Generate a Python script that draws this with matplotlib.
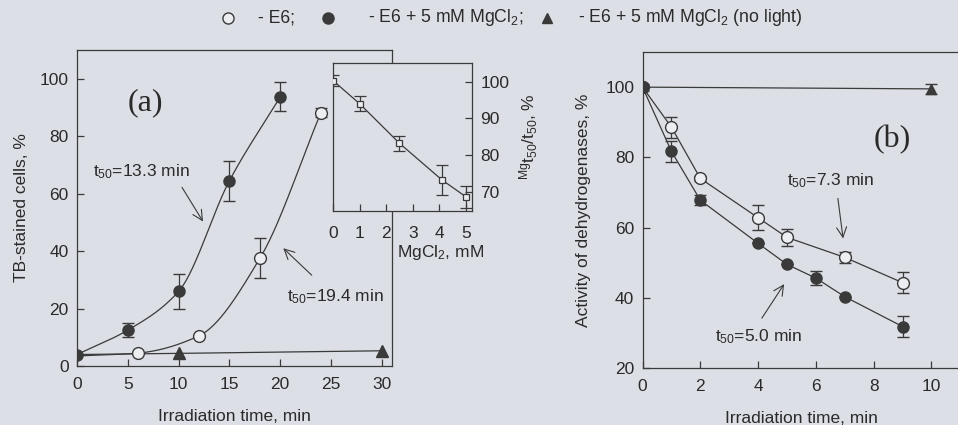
import matplotlib.pyplot as plt
import numpy as np

plt.rcParams['font.family'] = ['Liberation Sans', 'DejaVu Sans']
plt.rcParams['mathtext.fontset'] = 'custom'
plt.rcParams['mathtext.rm'] = 'Liberation Sans'
plt.rcParams['mathtext.it'] = 'Liberation Sans'

PAGE = '#dcdfe5'
INK = '#3a3a3a'
TXT = '#2a2a2a'

# (a) TB-stained cells vs irradiation time
a_t_e6 = [0, 6, 12, 18, 24]
a_y_e6 = [3.5, 4.5, 10.5, 37.5, 88.2]
a_err_e6 = [0, 0, 0, 7, 1.5]
a_t_mg = [0, 5, 10, 15, 20]
a_y_mg = [4, 12.5, 26, 64.5, 93.7]
a_err_mg = [0, 2.5, 6, 7, 5]
a_t_dark = [0, 10, 30]
a_y_dark = [4, 4.4, 5.3]

# inset: MgCl2 dependence
ins_mg = [0, 1, 2.5, 4.1, 5]
ins_y = [100.3, 94, 83.2, 73.2, 68.6]
ins_err = [1.5, 2, 2, 4, 3]

# (b) dehydrogenase activity
b_t_e6 = [0, 1, 2, 4, 5, 7, 9]
b_y_e6 = [100, 88.6, 74, 62.8, 57.2, 51.5, 44.3]
b_err_e6 = [0, 3, 0.8, 3.5, 2.5, 1.5, 3]
b_t_mg = [0, 1, 2, 4, 5, 6, 7, 9]
b_y_mg = [100, 81.7, 67.8, 55.5, 49.5, 45.6, 40.3, 31.8]
b_err_mg = [1, 3, 1.5, 0, 0, 2, 0, 3]
b_t_dark = [0, 10]
b_y_dark = [100, 99.5]
b_err_dark = [0, 1.5]


def pchip(x, y, n=200):
    # monotone cubic through the measured points
    x = np.asarray(x, float)
    y = np.asarray(y, float)
    h = np.diff(x)
    d = np.diff(y) / h
    m = np.zeros_like(y)
    m[0], m[-1] = d[0], d[-1]
    for k in range(1, len(x) - 1):
        if d[k - 1] * d[k] > 0:
            w1 = 2 * h[k] + h[k - 1]
            w2 = h[k] + 2 * h[k - 1]
            m[k] = (w1 + w2) / (w1 / d[k - 1] + w2 / d[k])
    xs = np.linspace(x[0], x[-1], n)
    i = np.clip(np.searchsorted(x, xs) - 1, 0, len(h) - 1)
    s = (xs - x[i]) / h[i]
    h00 = 2 * s**3 - 3 * s**2 + 1
    h10 = s**3 - 2 * s**2 + s
    h01 = -2 * s**3 + 3 * s**2
    h11 = s**3 - s**2
    ys = h00 * y[i] + h10 * h[i] * m[i] + h01 * y[i + 1] + h11 * h[i] * m[i + 1]
    return xs, ys


def style(ax):
    ax.set_facecolor(PAGE)
    for sp in ax.spines.values():
        sp.set_color(INK)
        sp.set_linewidth(0.9)
    ax.tick_params(direction='in', length=5, width=0.9, colors=INK,
                   labelsize=12.5, labelcolor=TXT)
    ax.tick_params(axis='x', pad=8)
    ax.tick_params(axis='y', pad=6)


def arrow(ax, start, end):
    ax.annotate('', xy=end, xytext=start,
                arrowprops=dict(arrowstyle='->', color=INK, lw=0.8,
                                shrinkA=0, shrinkB=0, mutation_scale=18))


fig = plt.figure(figsize=(9.58, 4.25), dpi=100, facecolor=PAGE)

open_kw = dict(marker='o', ms=8.5, mfc='#eceef1', mec=INK, mew=1.0,
               ls='none', ecolor=INK, elinewidth=0.9, capsize=4, zorder=4)
fill_kw = dict(marker='o', ms=8, mfc=INK, mec=INK, ls='none',
               ecolor=INK, elinewidth=0.9, capsize=4, zorder=5)

# ---- panel (a)
axa = fig.add_axes([0.0804, 0.1388, 0.3288, 0.7435])
style(axa)
axa.plot(*pchip(a_t_mg, a_y_mg), color=INK, lw=0.9)
axa.plot(*pchip(a_t_e6, a_y_e6), color=INK, lw=0.9)
axa.plot(a_t_dark, a_y_dark, color=INK, lw=0.9)
axa.errorbar(a_t_e6[1:], a_y_e6[1:], yerr=a_err_e6[1:], **open_kw)
axa.errorbar(a_t_mg, a_y_mg, yerr=a_err_mg, **fill_kw)
axa.plot(a_t_dark[1:], a_y_dark[1:], marker='^', ms=8, color=INK, ls='none', zorder=5)
axa.set_xlim(0, 31)
axa.set_ylim(0, 110)
axa.set_xticks([0, 5, 10, 15, 20, 25, 30])
axa.set_yticks([0, 20, 40, 60, 80, 100])
axa.set_xlabel('Irradiation time, min', fontsize=12.5, color=TXT, labelpad=12)
axa.set_ylabel('TB-stained cells, %', fontsize=12.5, color=TXT, labelpad=8)
axa.text(5.0, 91.7, '(a)', family='Liberation Serif', fontsize=23, color=TXT,
         va='center')
axa.text(1.6, 67.5, r'$\mathregular{t_{50}}$=13.3 min', fontsize=12.5, color=TXT,
         va='center')
arrow(axa, (10.33, 62.2), (12.4, 50.3))
axa.text(20.7, 24, r'$\mathregular{t_{50}}$=19.4 min', fontsize=12.5, color=TXT,
         va='center')
arrow(axa, (23.1, 31.6), (20.3, 41.0))

# inset
axi = fig.add_axes([0.3476, 0.5042, 0.1451, 0.3476])
style(axi)
axi.tick_params(axis='x', pad=11)
axi.plot(ins_mg, ins_y, color=INK, lw=0.9)
axi.errorbar(ins_mg, ins_y, yerr=ins_err, marker='s', ms=5, mfc='#eceef1',
             mec=INK, mew=0.9, ls='none', ecolor=INK, elinewidth=0.9,
             capsize=4, zorder=4)
axi.set_xlim(0, 5.23)
axi.set_ylim(64.8, 105.1)
axi.set_xticks([0, 1, 2, 3, 4, 5])
axi.set_yticks([70, 80, 90, 100])
axi.yaxis.tick_right()
axi.yaxis.set_label_position('right')
axi.tick_params(axis='y', left=False, right=True, labelleft=False, labelright=True)
axi.set_ylabel(r'$\mathregular{^{Mg}t_{50}/t_{50}}$, %', fontsize=12.5,
               color=TXT, labelpad=6)
axi.text(2.4, 53.5, r'MgCl$\mathregular{_2}$, mM', fontsize=12.5,
         color=TXT, va='center', clip_on=False)

# legend row
ly = 1 - 18 / 425
lkw = dict(transform=fig.transFigure, clip_on=False, ls='none')
fig.add_artist(plt.Line2D([228 / 958], [ly], marker='o', ms=8,
                          mfc='#eceef1', mec=INK, mew=1.0, **lkw))
fig.add_artist(plt.Line2D([328 / 958], [ly], marker='o', ms=8,
                          mfc=INK, mec=INK, **lkw))
fig.add_artist(plt.Line2D([547 / 958], [ly], marker='^', ms=7,
                          color=INK, **lkw))
tk = dict(fontsize=12.7, color=TXT, va='center')
fig.text(258 / 958, ly, '- E6;', **tk)
fig.text(368 / 958, ly, r'- E6 + 5 mM MgCl$\mathregular{_2}$;', **tk)
fig.text(578 / 958, ly, r'- E6 + 5 mM MgCl$\mathregular{_2}$ (no light)', **tk)

# ---- panel (b)
axb = fig.add_axes([0.6707, 0.1341, 0.3318, 0.7435])
style(axb)
axb.plot(b_t_dark, b_y_dark, color=INK, lw=0.9)
axb.plot(b_t_e6, b_y_e6, color=INK, lw=0.9)
axb.plot(b_t_mg, b_y_mg, color=INK, lw=0.9)
axb.errorbar(b_t_e6, b_y_e6, yerr=b_err_e6, **open_kw)
axb.errorbar(b_t_mg, b_y_mg, yerr=b_err_mg, **fill_kw)
axb.errorbar(b_t_dark[1:], b_y_dark[1:], yerr=b_err_dark[1:], marker='^', ms=7,
             color=INK, ls='none', elinewidth=0.9, capsize=4, zorder=5)
axb.set_xlim(0, 11)
axb.set_ylim(20, 110)
axb.set_xticks([0, 2, 4, 6, 8, 10])
axb.set_yticks([20, 40, 60, 80, 100])
axb.set_xlabel('Irradiation time, min', fontsize=12.5, color=TXT, labelpad=12)
axb.set_ylabel('Activity of dehydrogenases, %', fontsize=12.5, color=TXT,
               labelpad=10)
axb.text(7.98, 85, '(b)', family='Liberation Serif', fontsize=23, color=TXT,
         va='center')
axb.text(5.0, 73.4, r'$\mathregular{t_{50}}$=7.3 min', fontsize=12.5, color=TXT,
         va='center')
arrow(axb, (6.76, 68.3), (6.94, 56.9))
axb.text(2.5, 28.9, r'$\mathregular{t_{50}}$=5.0 min', fontsize=12.5, color=TXT,
         va='center')
arrow(axb, (4.13, 34.2), (4.90, 43.9))

fig.savefig('out.png', dpi=100, facecolor=PAGE)
